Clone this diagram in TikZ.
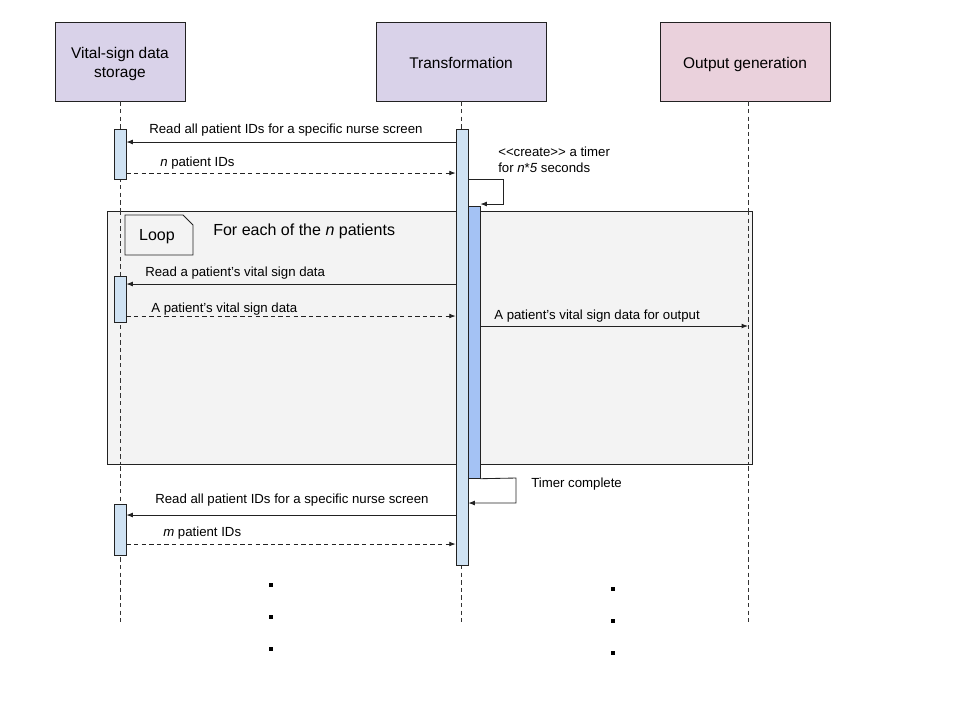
\documentclass[tikz,border=0pt]{standalone}
\usepackage{fontspec}
\setmainfont{Liberation Sans}
\usetikzlibrary{arrows.meta}
\definecolor{headA}{HTML}{D9D2E9}
\definecolor{headB}{HTML}{EAD1DC}
\definecolor{actA}{HTML}{CFE2F3}
\definecolor{actB}{HTML}{A4C2F4}
\definecolor{loopbg}{HTML}{F3F3F3}
\definecolor{edge}{HTML}{222222}
\newcommand\topstrut{\rule[-4.05pt]{0pt}{17.7pt}}
\tikzset{
  head/.style={draw=edge, line width=0.6pt, minimum width=32.5mm, minimum height=19.75mm, align=center, font=\fontsize{11}{13.5}\selectfont, inner sep=0pt},
  actbar/.style={draw=edge, line width=0.5pt, fill=actA, minimum width=3mm, inner sep=0pt, anchor=north},
  lifeline/.style={draw=black!80, dash pattern=on 1.1mm off 0.8mm, line width=0.5pt},
  msg/.style={draw=edge, line width=0.6pt, -{Latex[length=1.6mm,width=1.2mm]}},
  reply/.style={msg, dash pattern=on 1.1mm off 0.8mm},
  lbl/.style={font=\fontsize{9.4}{11.2}\selectfont, inner sep=0pt, anchor=base west},
  dotmark/.style={fill=black, minimum size=0.8mm, inner sep=0pt}
}
\begin{document}
\begin{tikzpicture}[x=0.25mm,y=-0.25mm]
\useasboundingbox (0,0) rectangle (960,720);
% headers
\node[head, fill=headA] (hv) at (120,61.5) {\topstrut Vital-sign data\\\strut storage};
\node[head, fill=headA, minimum width=42.5mm] (ht) at (461,61.5) {\topstrut Transformation};
\node[head, fill=headB, minimum width=42.5mm] (ho) at (745,61.5) {\topstrut Output generation};
% lifeline ends
\coordinate (ev) at (120,622);
\coordinate (et) at (461,622);
\coordinate (eo) at (748,622);
\draw[lifeline] (hv.south) -- (ev);
\draw[lifeline] (ht.south) -- (et);
\draw[lifeline] (ho.south -| eo) -- (eo);
% loop frame
\node[draw=edge, line width=0.6pt, fill=loopbg, minimum width=161.25mm, minimum height=63.25mm, inner sep=0pt, anchor=north west] (loop) at (107,211) {};
\draw[lifeline] (120,211) -- (120,464);
\draw[lifeline] (748,211) -- (748,464);
\draw[draw=edge, line width=0.6pt] (125,215) -- (183,215) -- (193,225) -- (193,255) -- (125,255) -- cycle;
\node[font=\fontsize{11.4}{13}\selectfont, inner sep=0pt] (looplbl) at (157,237) {Loop};
\node[font=\fontsize{11.4}{13}\selectfont, inner sep=0pt, anchor=base west] (looptitle) at (213,235) {For each of the \textit{n} patients};
% activation bars
\node[actbar, minimum height=12.5mm] (v1) at (120,129) {};
\node[actbar, minimum height=11.5mm] (v2) at (120,276) {};
\node[actbar, minimum height=12.75mm] (v3) at (120,504) {};
\node[actbar, minimum height=109mm] (t1) at (462,129) {};
\node[actbar, fill=actB, minimum height=68mm] (t2) at (474,206) {};
% messages
\draw[msg] (t1.west |- 0,142) -- (v1.east |- 0,142);
\node[lbl] (m1) at (149,133) {Read all patient IDs for a specific nurse screen};
\draw[reply] (v1.east |- 0,173) -- (t1.west |- 0,173);
\node[lbl] (m2) at (160,166) {\textit{n} patient IDs};
% self message create
\coordinate (c1) at (503,179);
\coordinate (c2) at (503,204);
\draw[msg] (t1.east |- 0,179) -- (c1) -- (c2) -- (t2.east |- c2);
\node[lbl, align=left, anchor=north west] (m3) at (498,147) {<\kern0pt<create>\kern0pt> a timer\\for \textit{n}*\textit{5} seconds};
\draw[msg] (t1.west |- 0,284) -- (v2.east |- 0,284);
\node[lbl] (m4) at (145,276) {Read a patient’s vital sign data};
\draw[reply] (v2.east |- 0,316) -- (t1.west |- 0,316);
\node[lbl] (m5) at (151,312) {A patient’s vital sign data};
\draw[msg] (t2.east |- 0,326) -- (eo |- 0,326);
\node[lbl] (m6) at (494,319) {A patient’s vital sign data for output};
% timer complete
\coordinate (d1) at (516,478);
\coordinate (d2) at (516,503);
\draw[msg] (t2.south east) -- (d1) -- (d2) -- (t1.east |- d2);
\node[lbl] (m7) at (531,487) {Timer complete};
\draw[msg] (t1.west |- 0,515) -- (v3.east |- 0,515);
\node[lbl] (m8) at (155,503) {Read all patient IDs for a specific nurse screen};
\draw[reply] (v3.east |- 0,544) -- (t1.west |- 0,544);
\node[lbl] (m9) at (163,536) {\textit{m} patient IDs};
% continuation dots
\node[dotmark] (p1) at (271,585) {};
\node[dotmark] (p2) at (271,617) {};
\node[dotmark] (p3) at (271,649) {};
\node[dotmark] (q1) at (613,589) {};
\node[dotmark] (q2) at (613,621) {};
\node[dotmark] (q3) at (613,653) {};
\end{tikzpicture}
\end{document}
